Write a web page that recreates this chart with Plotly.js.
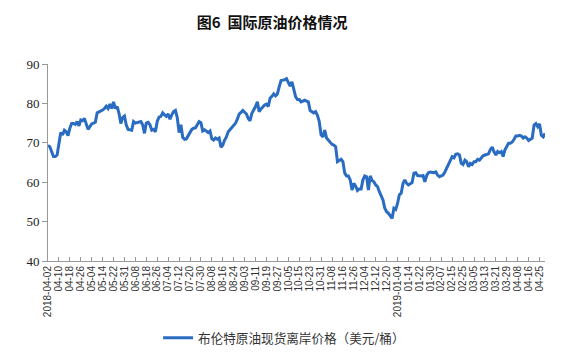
<!DOCTYPE html>
<html>
<head>
<meta charset="utf-8">
<script src="https://cdn.plot.ly/plotly-3.0.1.min.js"></script>
<style>html,body{margin:0;padding:0;background:#fff;}#chart{width:561px;height:357px;}</style>
</head>
<body>
<div id="chart"></div>
<script>
// Tick labels (every 6th trading day)
const tickLabels = ["2018-04-02","04-10","04-18","04-26","05-04","05-14","05-22","05-31","06-08","06-18","06-26","07-04","07-12","07-20","07-30","08-08","08-16","08-24","09-03","09-11","09-19","09-27","10-05","10-15","10-23","10-31","11-08","11-16","11-26","12-04","12-12","12-20","2019-01-04","01-14","01-22","01-30","02-07","02-15","02-25","03-05","03-13","03-21","03-29","04-08","04-16","04-25"];
const ticksEvery = 6;

// Trading-day number (0 = 2018-04-02) and Brent spot FOB price (USD/bbl)
const tradingDay = [0,1,3,4,5,6,7,8,9,10,11,12,13,14,15,16,17,18,19,20,21,22,24,25,26,27,28,29,30,31,32,33,34,35,36,37,38,39,40,41,42,43,44,46,47,48,50,51,52,53,54,55,56,57,58,59,60,61,62,63,64,65,66,67,68,69,70,71,72,73,74,75,76,77,78,79,80,81,82,83,84,85,86,87,88,89,90,91,92,93,94,95,96,97,98,99,101,102,103,104,105,106,107,109,110,111,112,114,115,116,117,119,120,121,122,123,124,125,126,127,128,129,130,131,132,133,134,135,136,137,138,139,140,141,142,143,144,146,147,148,149,150,151,152,153,154,155,156,157,158,159,160,161,162,163,164,165,166,167,168,169,170,171,172,173,174,175,176,177,178,179,180,181,182,183,184,185,186,187,188,189,190,191,192,193,194,195,196,197,198,199,200,201,202,203,204,205,206,207,208,209,210,212,213,214,215,216,217,218,219,221,222,223,224,225,226,227,228,229,230,231,232,233,234,235,236,237,238,239,240,241,242,243,244,245,246,247,248,249,250,251,252,253,254,255,256,257,258,259,260,261,262,263,264,265,266,267,268,269,270,271,272,273];
const brentPrice = [69.3,69.0,66.5,66.5,66.9,69.9,72.6,72.0,73.2,72.8,71.8,73.7,74.9,74.9,74.7,75.4,74.3,75.8,75.6,76.2,74.9,73.4,74.8,75.0,75.2,77.6,77.8,78.0,78.3,78.7,79.3,78.7,79.8,78.7,80.4,78.7,79.2,77.5,74.9,76.4,76.8,74.5,73.4,73.2,75.4,75.0,75.2,75.4,74.6,72.4,75.0,75.2,74.6,73.2,73.4,72.8,75.4,76.5,76.7,77.6,77.1,76.7,77.3,76.0,77.1,77.9,78.2,76.4,72.6,74.6,71.4,70.9,71.0,71.7,72.4,73.4,73.7,73.8,74.6,75.4,75.1,73.0,73.3,73.0,72.6,73.0,71.0,70.7,71.2,70.9,71.2,68.9,69.4,70.7,71.5,72.8,73.9,74.4,75.0,76.0,77.3,77.7,78.2,77.3,76.2,75.6,77.5,79.2,80.4,77.9,78.6,79.6,79.8,79.2,81.3,81.8,82.4,81.9,82.4,84.2,85.8,85.9,86.0,86.3,85.5,84.4,85.5,83.6,81.7,81.0,81.0,80.4,80.7,80.8,80.6,80.4,78.2,77.6,77.9,77.0,75.4,72.0,71.5,73.2,71.2,70.7,70.3,69.6,69.4,69.0,65.2,65.4,65.8,65.2,62.3,61.6,61.6,60.6,58.0,59.7,59.0,57.9,58.3,58.3,60.6,61.6,61.4,58.0,61.6,60.4,60.1,59.3,58.9,57.6,56.4,55.5,53.4,52.5,52.1,51.4,50.8,53.4,53.1,54.6,56.8,57.2,59.7,60.6,59.7,59.3,59.7,59.9,62.3,62.4,61.7,61.6,61.6,61.7,60.1,61.7,62.4,62.6,62.4,62.6,61.8,61.4,61.6,61.8,62.6,63.5,65.2,66.5,66.2,67.1,67.2,66.9,64.8,64.5,65.6,65.2,63.9,64.8,64.5,65.2,65.2,65.8,65.6,66.3,66.7,66.9,67.0,67.2,68.3,68.9,67.7,66.9,67.8,67.5,67.8,66.5,68.2,69.0,69.9,69.9,70.2,70.9,71.7,71.7,71.9,71.7,71.2,71.5,71.2,70.6,70.8,71.2,74.5,74.9,74.1,74.8,71.9,71.5,72.4];

const seriesName = "布伦特原油现货离岸价格（美元/桶）";
const chartTitle = "图6  国际原油价格情况";
const yTicks = [40,50,60,70,80,90];

const tickVals = tickLabels.map((_, i) => i * ticksEvery);

const trace = {
  x: tradingDay,
  y: brentPrice,
  type: "scatter",
  mode: "lines",
  name: seriesName,
  line: {color: "#2a6cc2", width: 3}
};

const layout = {
  width: 561,
  height: 357,
  margin: {l: 48, r: 16, t: 64, b: 96, pad: 0},
  paper_bgcolor: "#fff",
  plot_bgcolor: "#fff",
  title: {
    text: "<b>" + chartTitle + "</b>",
    x: 0.485, xanchor: "center",
    y: 0.935, yanchor: "middle", yref: "container",
    font: {family: "Noto Sans CJK SC", size: 15, color: "#111"}
  },
  showlegend: true,
  legend: {
    orientation: "h",
    x: 0.475, xanchor: "center", xref: "paper",
    y: 0.053, yanchor: "middle", yref: "container",
    font: {family: "Noto Sans CJK SC", size: 12.6, color: "#333"},
    bgcolor: "rgba(0,0,0,0)"
  },
  xaxis: {
    range: [0, 273],
    automargin: false,
    tickmode: "array",
    tickvals: tickVals,
    ticktext: tickLabels,
    tickangle: -90,
    tickfont: {family: "Liberation Sans", size: 10, color: "#333"},
    ticks: "inside",
    ticklen: 4,
    tickcolor: "#999",
    showline: true,
    linecolor: "#999",
    linewidth: 1,
    showgrid: false,
    zeroline: false
  },
  yaxis: {
    range: [40, 90],
    automargin: false,
    tickmode: "array",
    tickvals: yTicks,
    ticks: "outside",
    ticklen: 5,
    tickcolor: "#999",
    tickfont: {family: "Liberation Serif, serif", size: 13, color: "#222"},
    showline: true,
    linecolor: "#999",
    linewidth: 1,
    showgrid: false,
    zeroline: false
  }
};

Plotly.newPlot("chart", [trace], layout, {displayModeBar: false, staticPlot: true});
</script>
</body>
</html>
